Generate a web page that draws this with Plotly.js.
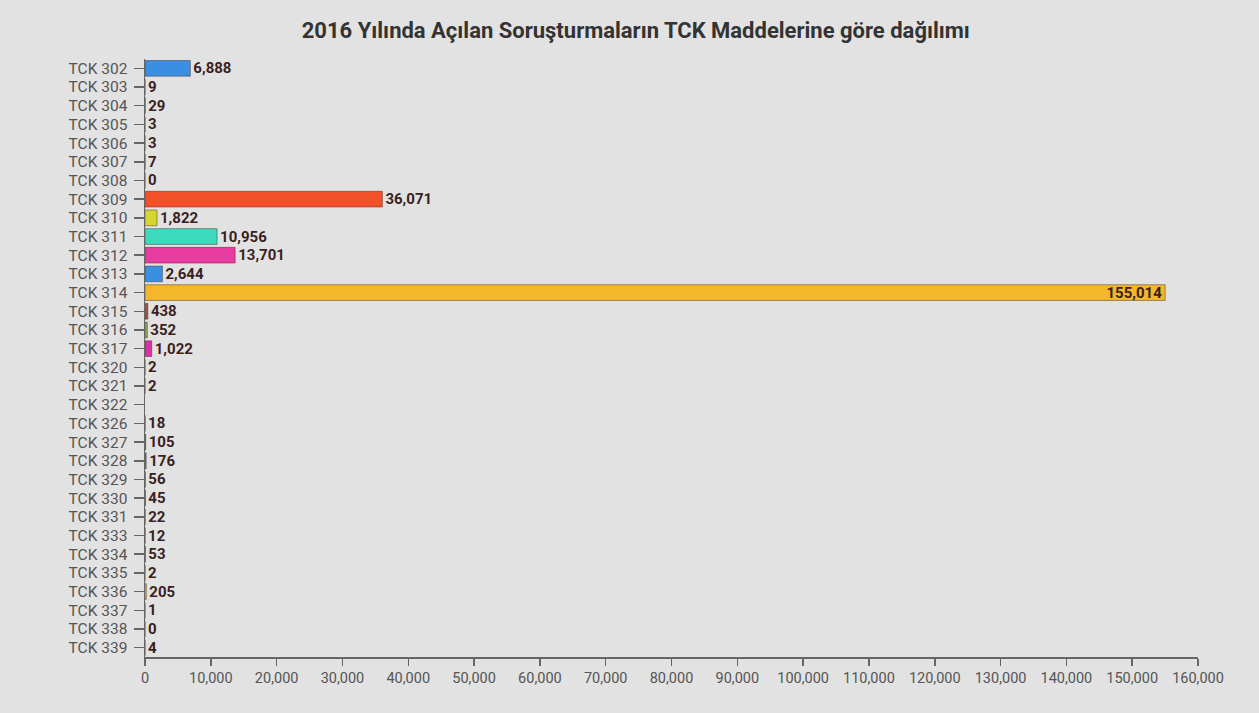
<!DOCTYPE html>
<html>
<head>
<meta charset="utf-8">
<script src="https://cdn.plot.ly/plotly-3.0.1.min.js"></script>
<style>
html,body{margin:0;padding:0;background:#e2e2e2;}
#chart{width:1259px;height:713px;}
</style>
</head>
<body>
<div id="chart"></div>
<script>
const categories = ["TCK 302","TCK 303","TCK 304","TCK 305","TCK 306","TCK 307","TCK 308","TCK 309","TCK 310","TCK 311","TCK 312","TCK 313","TCK 314","TCK 315","TCK 316","TCK 317","TCK 320","TCK 321","TCK 322","TCK 326","TCK 327","TCK 328","TCK 329","TCK 330","TCK 331","TCK 333","TCK 334","TCK 335","TCK 336","TCK 337","TCK 338","TCK 339"];
const values2016 = [6888,9,29,3,3,7,0,36071,1822,10956,13701,2644,155014,438,352,1022,2,2,null,18,105,176,56,45,22,12,53,2,205,1,0,4];
const barColors = ["#3b8fe3","#f4b62a","#a5544a","#8fb04f","#d633a6","#3b8fe3","#f4502a","#f4502a","#d6d631","#3ddac0","#e83ca0","#3b8fe3","#f4b62a","#a5544a","#8fb04f","#d633a6","#3b8fe3","#f4502a","#d6d631","#3ddac0","#e83ca0","#3b8fe3","#f4b62a","#a5544a","#8fb04f","#d633a6","#3b8fe3","#f4502a","#d6d631","#3ddac0","#e83ca0","#3b8fe3"];
const seriesName = "2016";
const titleText = "2016 Yılında Açılan Soruşturmaların TCK Maddelerine göre dağılımı";

const labels = values2016.map(v => v === null ? "" : v.toLocaleString("en-US"));
const maxVal = Math.max(...values2016.filter(v => v !== null));
const positions = values2016.map(v => v === maxVal ? "inside" : "outside");

const trace = {
  type: "bar",
  orientation: "h",
  name: seriesName,
  y: categories,
  x: values2016,
  text: labels,
  textposition: positions,
  insidetextanchor: "end",
  cliponaxis: false,
  textfont: {family: "Roboto, sans-serif", size: 15, color: "#3a1f1f", weight: "bold"},
  marker: {color: barColors, line: {color: "rgba(60,40,30,0.45)", width: 1}},
  width: 0.84,
  hoverinfo: "x+y"
};

const layout = {
  width: 1259,
  height: 713,
  paper_bgcolor: "#e2e2e2",
  plot_bgcolor: "#e2e2e2",
  margin: {l: 145, r: 61, t: 59, b: 56},
  showlegend: false,
  uniformtext: {mode: "show", minsize: 15},
  title: {
    text: titleText,
    x: 0.505, xanchor: "center",
    y: 0.958, yanchor: "middle",
    font: {family: "Roboto, sans-serif", size: 22, color: "#333333", weight: "bold"}
  },
  xaxis: {
    range: [0, 160000],
    dtick: 10000,
    tickformat: ",d",
    showgrid: false,
    zeroline: false,
    showline: true,
    linecolor: "#666666",
    linewidth: 1.5,
    ticks: "outside",
    ticklen: 7,
    tickcolor: "#666666",
    tickwidth: 1.5,
    tickfont: {family: "Roboto, sans-serif", size: 14.5, color: "#555555"}
  },
  yaxis: {
    type: "category",
    autorange: "reversed",
    tickmode: "array",
    tickvals: categories,
    ticktext: categories,
    showgrid: false,
    zeroline: false,
    showline: true,
    linecolor: "#666666",
    linewidth: 1.5,
    ticks: "outside",
    ticklen: 10,
    tickcolor: "#666666",
    tickwidth: 1.5,
    ticklabelstandoff: 3,
    tickfont: {family: "Roboto, sans-serif", size: 15.5, color: "#555555"}
  },
  font: {family: "Roboto, sans-serif"}
};

Plotly.newPlot("chart", [trace], layout, {displayModeBar: false, staticPlot: true});
</script>
</body>
</html>
